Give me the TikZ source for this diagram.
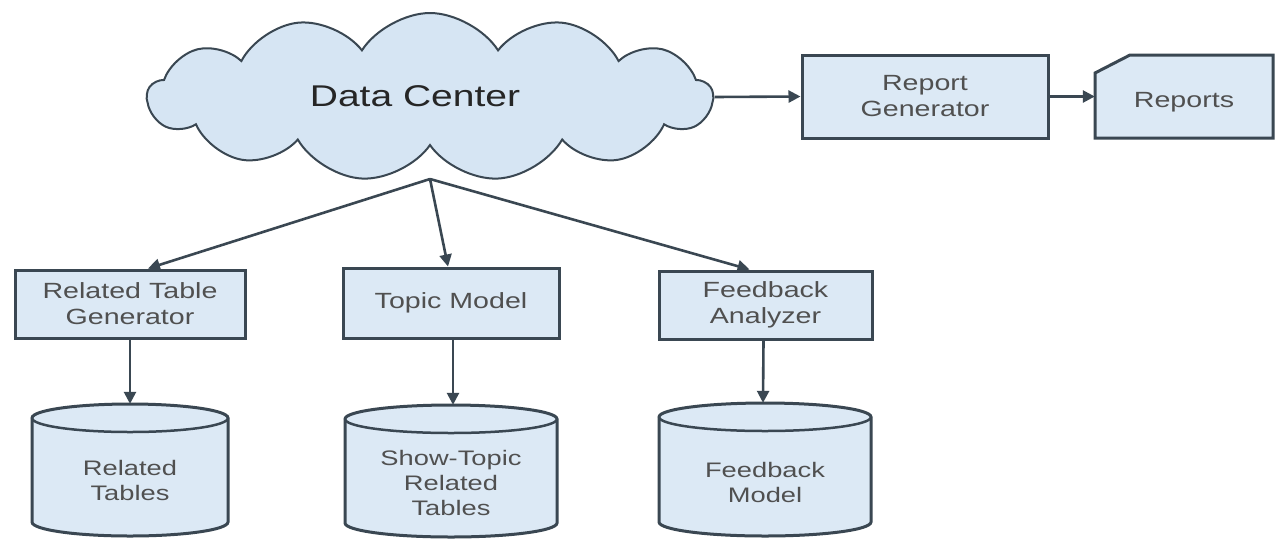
\documentclass[tikz,border=0pt]{standalone}
\usepackage{fontspec}
\setmainfont{Liberation Sans}[FakeStretch=1.3]
\usetikzlibrary{shapes.symbols,arrows.meta,calc}
\definecolor{fillblue}{HTML}{DCE9F5}
\definecolor{cloudblue}{HTML}{D6E5F3}
\definecolor{edge}{HTML}{3A4752}
\definecolor{txt}{HTML}{505050}
\tikzset{
  boxstyle/.style={draw=edge,fill=fillblue,line width=3pt,inner sep=0pt,
    font=\fontsize{22}{26}\selectfont,text=txt,align=center},
  conn/.style={draw=edge,line width=2.6pt,-{Triangle[length=12pt,width=12pt]}},
  cylfill/.style={draw=edge,fill=fillblue,line width=3pt},
  cyltext/.style={font=\fontsize{21}{25}\selectfont,text=txt,align=center},
}
\newcommand{\mycyl}[6]{% name, cx, rx, top, bottom, ry
  \pgfmathsetmacro{\myleft}{#2-#3}\pgfmathsetmacro{\myright}{#2+#3}
  \pgfmathsetmacro{\mytopc}{#4-#6}\pgfmathsetmacro{\mybotc}{#5+#6}
  \pgfmathsetmacro{\mymidy}{(#4+#5)/2}\pgfmathsetmacro{\myhh}{#4-#5}\pgfmathsetmacro{\myww}{2*#3}
  \node[minimum width=\myww,minimum height=\myhh,inner sep=0pt] (#1) at (#2,\mymidy) {};
  \draw[cylfill] (\myleft,\mytopc) -- (\myleft,\mybotc) arc[start angle=180,end angle=360,x radius=#3,y radius=#6]
     -- (\myright,\mytopc) arc[start angle=0,end angle=180,x radius=#3,y radius=#6] -- cycle;
  \draw[draw=edge,line width=2.5pt] (\myleft,\mytopc) arc[start angle=180,end angle=360,x radius=#3,y radius=#6];
}
\begin{document}
\begin{tikzpicture}[x=1pt,y=1pt]
\useasboundingbox[fill=white] (0,0) rectangle (1279,-539);

% cloud
\node[cloud,cloud puffs=13,cloud puff arc=115,draw=edge,fill=cloudblue,line width=2pt,
  minimum width=565,minimum height=168,inner sep=0pt] (dc) at (430,-97) {};
\node[font=\fontsize{30}{34}\selectfont,text=black!85] (dct) at (415,-96) {Data Center};

% right side
\node[boxstyle,minimum width=246,minimum height=83] (rg) at (925,-96.5) {Report\\Generator};
\node[minimum width=178,minimum height=83,inner sep=0pt] (rep) at (1184,-96.5) {};
\draw[cylfill] (1095,-73) -- (1130,-55) -- (1273,-55) -- (1273,-138) -- (1095,-138) -- cycle;
\node[font=\fontsize{22}{26}\selectfont,text=txt] at (1184,-102) {Reports};

% middle row boxes
\node[boxstyle,minimum width=230,minimum height=68] (rtg) at (130,-304) {Related Table\\Generator};
\node[boxstyle,minimum width=216,minimum height=70] (tm) at (451,-303) {Topic Model};
\node[boxstyle,minimum width=213,minimum height=68] (fa) at (765.5,-305) {Feedback\\Analyzer};

% cylinders
\mycyl{rt}{130}{98}{-404}{-536}{14}
\mycyl{st}{451}{106}{-405}{-537}{14}
\mycyl{fm}{765}{106}{-403}{-536}{14}
\node[cyltext] at (130,-480) {Related\\Tables};
\node[cyltext] at (451,-483) {Show-Topic\\Related\\Tables};
\node[cyltext] at (765,-482) {Feedback\\Model};

% connectors
\coordinate (hub) at (430,-179);
\draw[conn] (dc.east) -- (rg.west);
\draw[conn] (rg.east) -- (rep.west);
\draw[conn] (hub) -- ($(rtg.north)+(18,0)$);
\draw[conn] (hub) -- ($(tm.north)+(-3,0)$);
\draw[conn] (hub) -- ($(fa.north)+(-16,0)$);
\draw[conn] (rtg.south) -- (rt.north);
\draw[conn] ($(tm.south)+(2,0)$) -- ($(st.north)+(2,0)$);
\draw[conn] ($(fa.south)+(-2,0)$) -- ($(fm.north)+(-2,0)$);
\end{tikzpicture}
\end{document}
